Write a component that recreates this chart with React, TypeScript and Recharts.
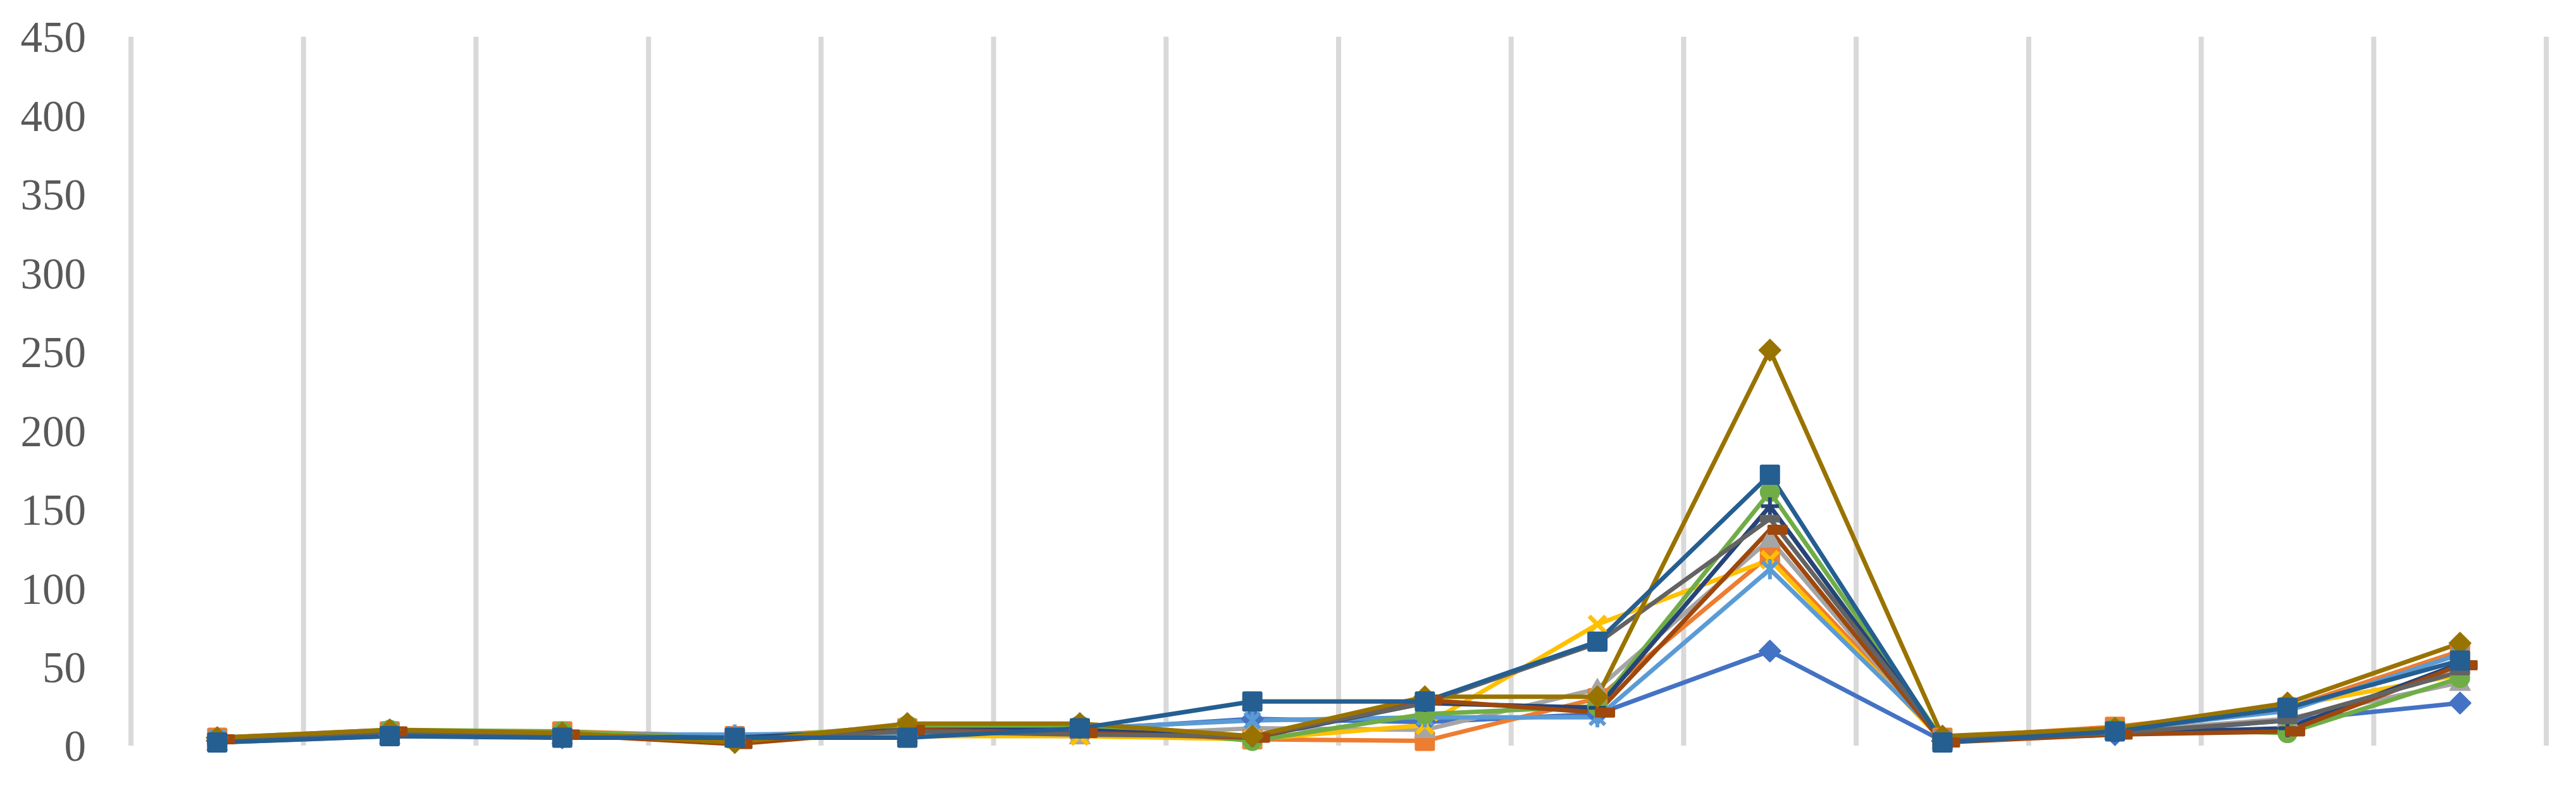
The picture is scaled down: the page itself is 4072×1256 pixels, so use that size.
import { LineChart, Line, XAxis, YAxis, CartesianGrid } from "recharts";

const categories = ["1", "2", "3", "4", "5", "6", "7", "8", "9", "10", "11", "12", "13", "14"];
const yTicks = [0, 50, 100, 150, 200, 250, 300, 350, 400, 450];

const serie1 = [3, 7, 5, 5, 6, 10, 17, 15, 20, 60, 3, 7, 16, 27];
const serie2 = [5, 9, 9, 6, 11, 10, 4, 3, 30, 121, 5, 12, 24, 60];
const serie3 = [2, 6, 6, 4, 7, 6, 11, 10, 36, 131, 3, 9, 17, 40];
const serie4 = [3, 7, 6, 4, 6, 6, 4, 13, 77, 118, 3, 9, 25, 45];
const serie5 = [5, 10, 7, 7, 8, 11, 16, 18, 18, 112, 5, 10, 22, 58];
const serie6 = [2, 10, 9, 4, 13, 13, 3, 20, 25, 161, 4, 11, 8, 43];
const serie7 = [3, 6, 6, 5, 10, 10, 5, 27, 24, 152, 3, 8, 11, 52];
const serie8 = [4, 9, 7, 1, 10, 8, 5, 29, 21, 137, 2, 7, 9, 51];
const serie9 = [3, 8, 7, 4, 9, 7, 6, 27, 65, 144, 4, 8, 16, 47];
const serie10 = [5, 10, 8, 2, 14, 14, 6, 31, 31, 251, 6, 11, 27, 65];
const serie11 = [2, 6, 5, 5, 5, 11, 28, 28, 66, 172, 2, 9, 24, 54];

type MarkerKind =
  | "diamond"
  | "square"
  | "triangle"
  | "x"
  | "star"
  | "circle"
  | "plus"
  | "dash"
  | "longdash";

const series: { key: string; values: number[]; color: string; marker: MarkerKind }[] = [
  { key: "s1", values: serie1, color: "#4472C4", marker: "diamond" },
  { key: "s2", values: serie2, color: "#ED7D31", marker: "square" },
  { key: "s3", values: serie3, color: "#A5A5A5", marker: "triangle" },
  { key: "s4", values: serie4, color: "#FFC000", marker: "x" },
  { key: "s5", values: serie5, color: "#5B9BD5", marker: "star" },
  { key: "s6", values: serie6, color: "#70AD47", marker: "circle" },
  { key: "s7", values: serie7, color: "#264478", marker: "plus" },
  { key: "s8", values: serie8, color: "#9E480E", marker: "dash" },
  { key: "s9", values: serie9, color: "#636363", marker: "longdash" },
  { key: "s10", values: serie10, color: "#997300", marker: "diamond" },
  { key: "s11", values: serie11, color: "#255E91", marker: "square" },
];

const data = categories.map((c, i) => {
  const row: { [k: string]: number | string } = { name: c, x: i + 0.5 };
  series.forEach((s) => {
    row[s.key] = s.values[i];
  });
  return row;
});

function drawMarker(kind: MarkerKind, color: string) {
  return (props: any) => {
    const { cx, cy, index } = props;
    const k = `${kind}-${color}-${index}`;
    if (cx == null || cy == null) return <g key={k} />;
    switch (kind) {
      case "diamond":
        return (
          <polygon
            key={k}
            points={`${cx},${cy - 17} ${cx + 17},${cy} ${cx},${cy + 17} ${cx - 17},${cy}`}
            fill={color}
            stroke={color}
            strokeWidth={2}
            strokeLinejoin="round"
          />
        );
      case "square":
        return (
          <rect key={k} x={cx - 16} y={cy - 16} width={32} height={32} rx={3} fill={color} />
        );
      case "triangle":
        return (
          <polygon
            key={k}
            points={`${cx},${cy - 16} ${cx + 16},${cy + 12} ${cx - 16},${cy + 12}`}
            fill={color}
            stroke={color}
            strokeWidth={2}
            strokeLinejoin="round"
          />
        );
      case "x":
        return (
          <g key={k} stroke={color} strokeWidth={7}>
            <line x1={cx - 13} y1={cy - 13} x2={cx + 13} y2={cy + 13} />
            <line x1={cx - 13} y1={cy + 13} x2={cx + 13} y2={cy - 13} />
          </g>
        );
      case "star":
        return (
          <g key={k} stroke={color} strokeWidth={6}>
            <line x1={cx - 12} y1={cy - 12} x2={cx + 12} y2={cy + 12} />
            <line x1={cx - 12} y1={cy + 12} x2={cx + 12} y2={cy - 12} />
            <line x1={cx} y1={cy - 16} x2={cx} y2={cy + 16} />
          </g>
        );
      case "circle":
        return <circle key={k} cx={cx} cy={cy} r={16} fill={color} />;
      case "plus":
        return (
          <g key={k} stroke={color} strokeWidth={6}>
            <line x1={cx - 14} y1={cy} x2={cx + 14} y2={cy} />
            <line x1={cx} y1={cy - 14} x2={cx} y2={cy + 14} />
          </g>
        );
      case "dash":
        return (
          <rect key={k} x={cx - 4} y={cy - 8} width={32} height={16} rx={2} fill={color} />
        );
      case "longdash":
        return (
          <rect key={k} x={cx - 16} y={cy - 6} width={32} height={12} rx={2} fill={color} />
        );
    }
    return <g key={k} />;
  };
}

export default function App() {
  return (
    <div
      style={{
        position: "absolute",
        left: 0,
        top: 0,
        width: 4072,
        height: 1256,
        background: "#ffffff",
      }}
    >
      <LineChart
        width={4072}
        height={1256}
        data={data}
        margin={{ top: 58, right: 47, left: 0, bottom: 78 }}
      >
        <CartesianGrid
          horizontal={false}
          vertical={true}
          stroke="#d9d9d9"
          strokeWidth={8}
        />
        <XAxis
          dataKey="x"
          type="number"
          domain={[0, categories.length]}
          ticks={categories.map((_, i) => i).concat([categories.length])}
          interval={0}
          hide
        />
        <YAxis
          domain={[0, 450]}
          ticks={yTicks}
          interval={0}
          width={207}
          axisLine={false}
          tickLine={false}
          tickSize={0}
          tickMargin={71}
          tick={{ fontSize: 69, fill: "#595959", fontFamily: "Liberation Serif" }}
        />
        {series.map((s) => (
          <Line
            key={s.key}
            type="linear"
            dataKey={s.key}
            stroke={s.color}
            strokeWidth={7}
            strokeLinejoin="round"
            strokeLinecap="round"
            dot={drawMarker(s.marker, s.color)}
            activeDot={false}
            isAnimationActive={false}
          />
        ))}
      </LineChart>
    </div>
  );
}
